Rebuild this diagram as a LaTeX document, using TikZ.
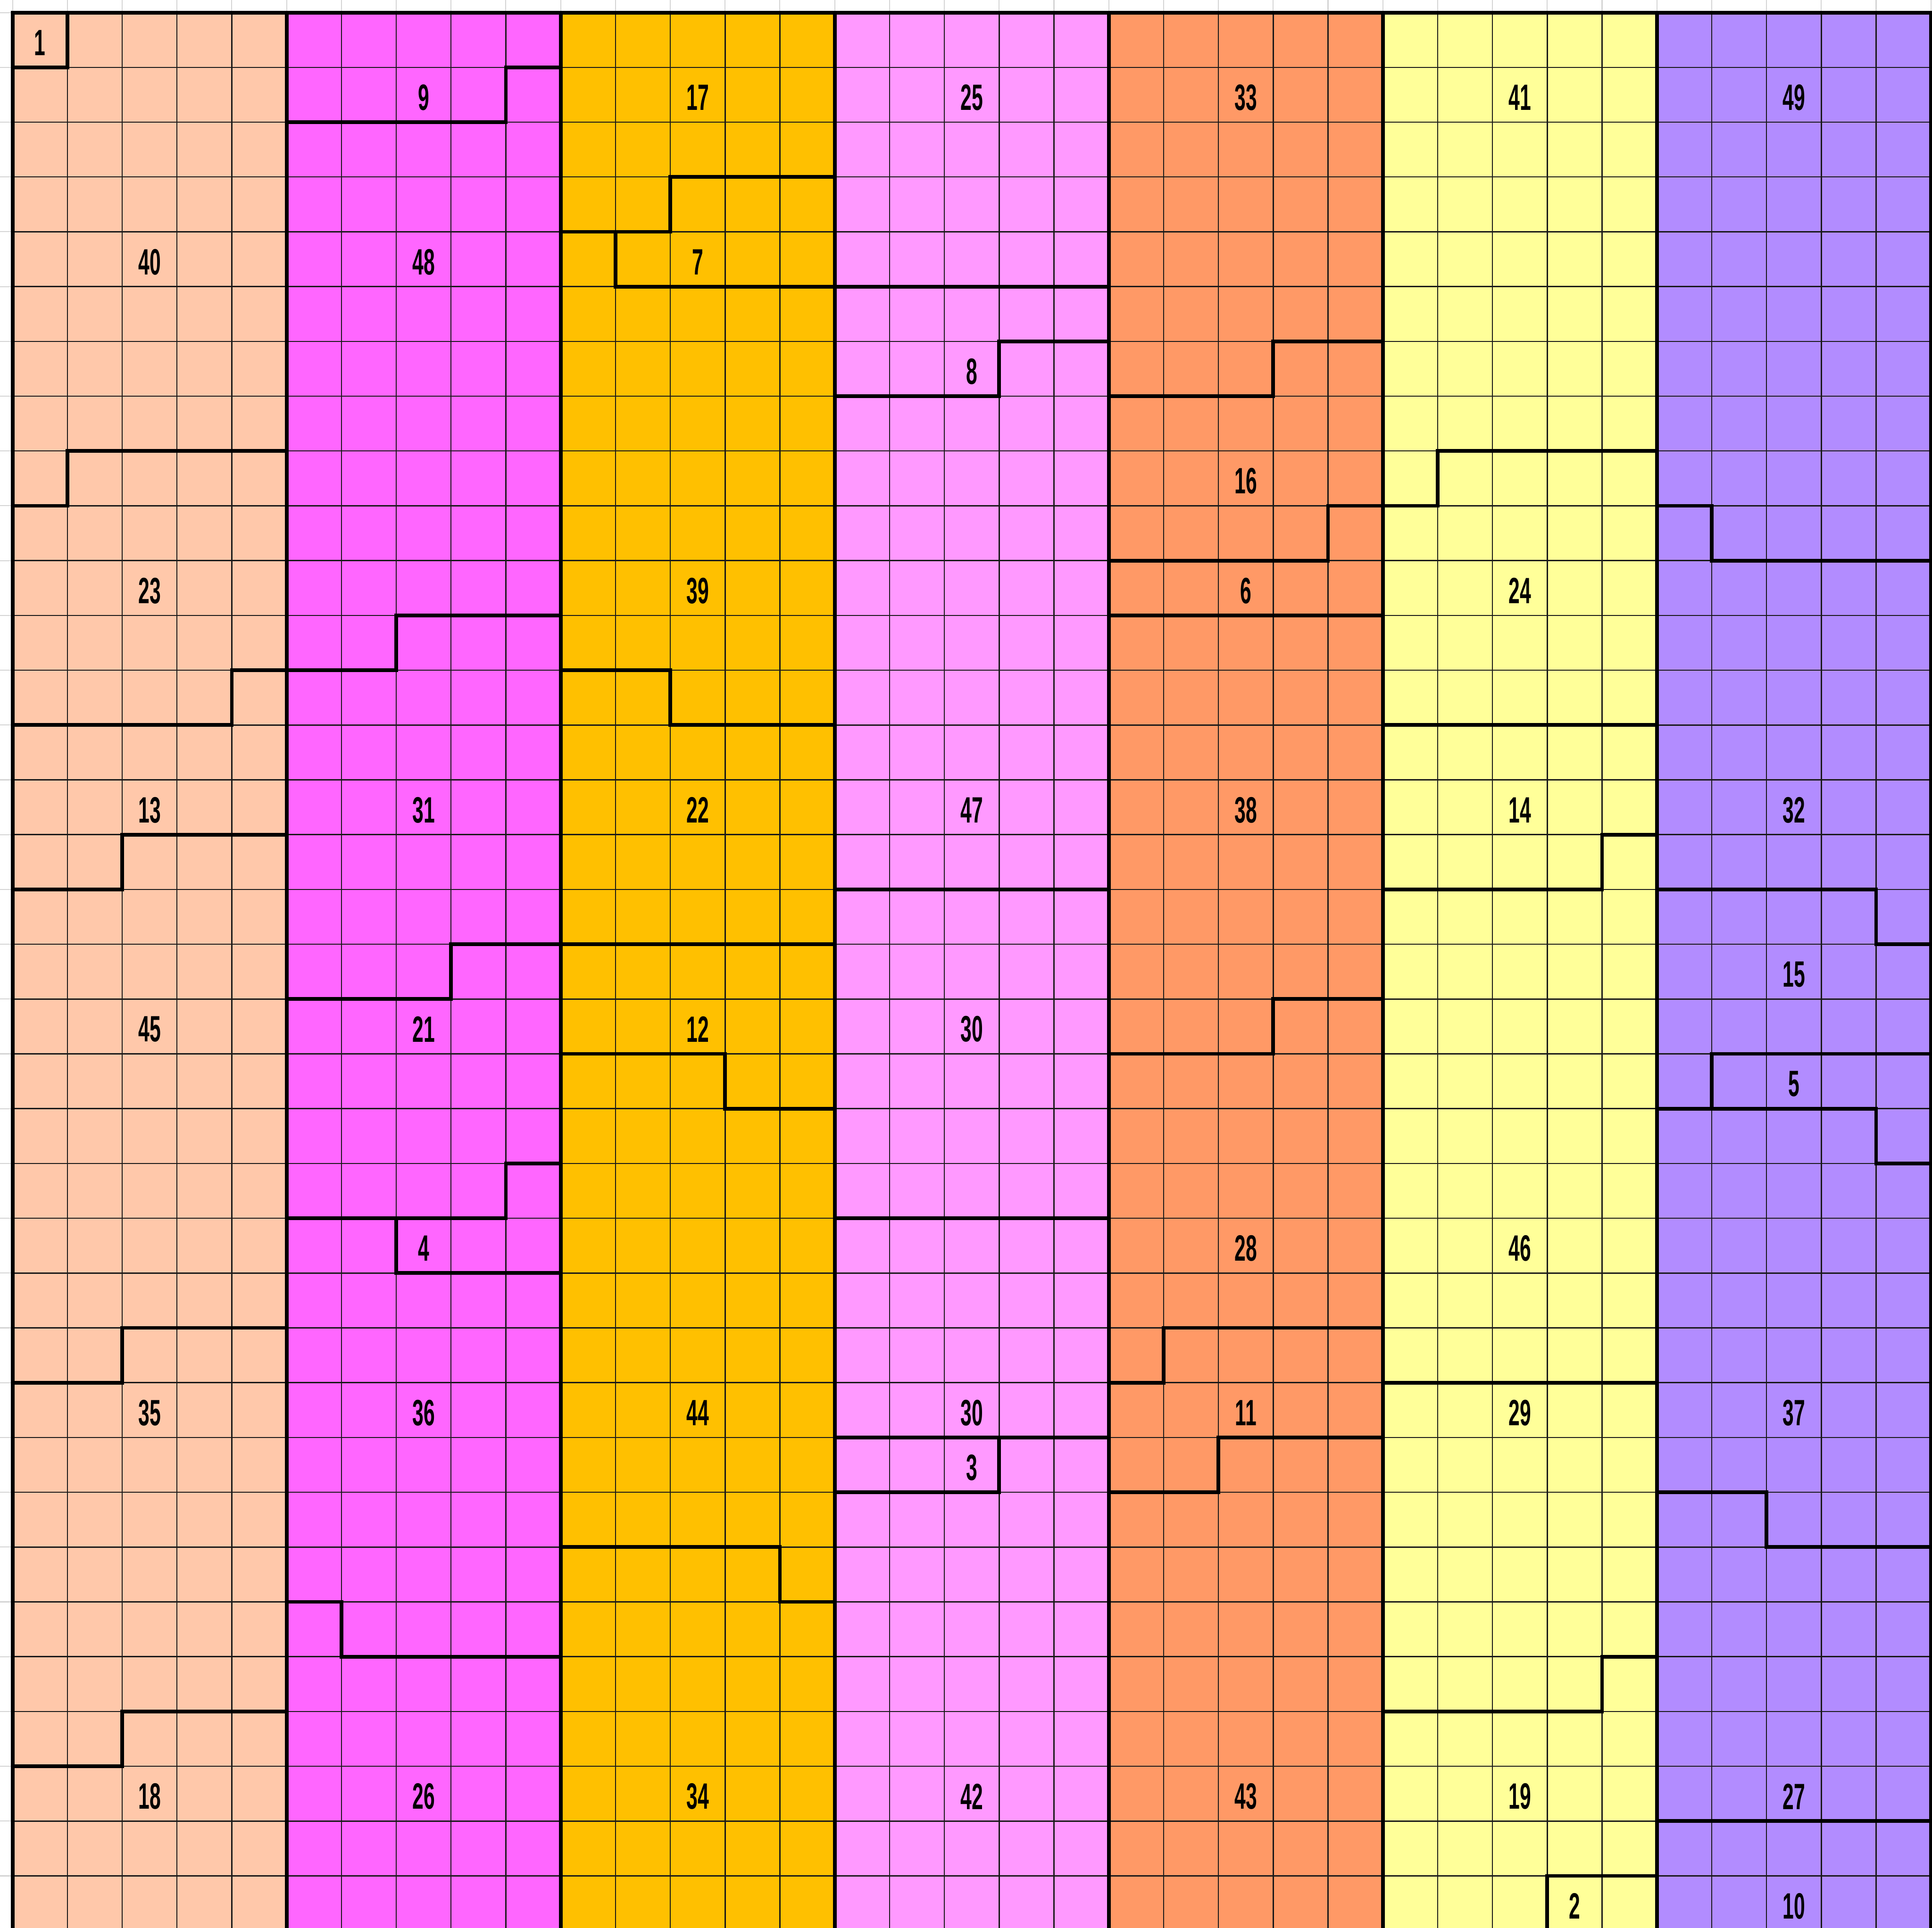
\documentclass[tikz,border=0pt]{standalone}
\usepackage{fontspec}
\setmainfont{Liberation Sans}[FakeStretch=0.55]
\definecolor{cA}{HTML}{FFC8AA}
\definecolor{cB}{HTML}{FF66FF}
\definecolor{cC}{HTML}{FFC000}
\definecolor{cD}{HTML}{FF99FF}
\definecolor{cE}{HTML}{FF9966}
\definecolor{cF}{HTML}{FFFF99}
\definecolor{cG}{HTML}{B28CFF}
\definecolor{faintgrey}{HTML}{D4D4D4}
\begin{document}
\begin{tikzpicture}[x=1cm,y=-1cm,
  faint/.style={draw=faintgrey,line width=0.5pt},
  cellline/.style={draw=black!90,line width=0.6pt},
  bound/.style={draw=black,line width=1.9pt,line cap=rect,line join=miter},
  lbl/.style={font=\fontsize{19}{19}\selectfont\bfseries,inner sep=0pt}]
\useasboundingbox (-0.2294,-0.2294) rectangle (35.02,34.945);
\fill[white] (-0.2294,-0.2294) rectangle (35.02,34.945);
\clip (-0.2294,-0.2294) rectangle (35.02,34.945);
% faint spreadsheet lines in the margins
\foreach \i in {0,...,35} {
  \draw[faint] (\i,-0.2294) -- (\i,0);
  \draw[faint] (-0.2294,\i) -- (0,\i);
}
% stripes
\fill[cA] (0,0) rectangle (5,35);
\fill[cB] (5,0) rectangle (10,35);
\fill[cC] (10,0) rectangle (15,35);
\fill[cD] (15,0) rectangle (20,35);
\fill[cE] (20,0) rectangle (25,35);
\fill[cF] (25,0) rectangle (30,35);
\fill[cG] (30,0) rectangle (35,35);
% thin cell grid
\foreach \i in {0,...,35} {
  \draw[cellline] (\i,0) -- (\i,35);
  \draw[cellline] (0,\i) -- (35,\i);
}
% outer border and stripe borders
\draw[bound] (0,0) rectangle (35,35);
\foreach \i in {5,10,15,20,25,30} { \draw[bound] (\i,0) -- (\i,35); }
% stripe 1
\draw[bound] (0,1) -- (1,1) -- (1,0);
\draw[bound] (0,9) -- (1,9) -- (1,8) -- (5,8);
\draw[bound] (0,13) -- (4,13) -- (4,12) -- (5,12);
\draw[bound] (0,16) -- (2,16) -- (2,15) -- (5,15);
\draw[bound] (0,25) -- (2,25) -- (2,24) -- (5,24);
\draw[bound] (0,32) -- (2,32) -- (2,31) -- (5,31);
% stripe 2
\draw[bound] (5,2) -- (9,2) -- (9,1) -- (10,1);
\draw[bound] (5,12) -- (7,12) -- (7,11) -- (10,11);
\draw[bound] (5,18) -- (8,18) -- (8,17) -- (10,17);
\draw[bound] (5,22) -- (9,22) -- (9,21) -- (10,21);
\draw[bound] (7,22) -- (7,23) -- (10,23);
\draw[bound] (5,29) -- (6,29) -- (6,30) -- (10,30);
% stripe 3
\draw[bound] (10,4) -- (12,4) -- (12,3) -- (15,3);
\draw[bound] (11,4) -- (11,5) -- (15,5);
\draw[bound] (10,12) -- (12,12) -- (12,13) -- (15,13);
\draw[bound] (10,17) -- (15,17);
\draw[bound] (10,19) -- (13,19) -- (13,20) -- (15,20);
\draw[bound] (10,28) -- (14,28) -- (14,29) -- (15,29);
% stripe 4
\draw[bound] (15,5) -- (20,5);
\draw[bound] (15,7) -- (18,7) -- (18,6) -- (20,6);
\draw[bound] (15,16) -- (20,16);
\draw[bound] (15,22) -- (20,22);
\draw[bound] (15,26) -- (20,26);
\draw[bound] (15,27) -- (18,27) -- (18,26);
% stripe 5
\draw[bound] (20,7) -- (23,7) -- (23,6) -- (25,6);
\draw[bound] (20,10) -- (24,10) -- (24,9) -- (25,9);
\draw[bound] (20,11) -- (25,11);
\draw[bound] (20,19) -- (23,19) -- (23,18) -- (25,18);
\draw[bound] (20,25) -- (21,25) -- (21,24) -- (25,24);
\draw[bound] (20,27) -- (22,27) -- (22,26) -- (25,26);
% stripe 6
\draw[bound] (25,9) -- (26,9) -- (26,8) -- (30,8);
\draw[bound] (25,13) -- (30,13);
\draw[bound] (25,16) -- (29,16) -- (29,15) -- (30,15);
\draw[bound] (25,25) -- (30,25);
\draw[bound] (25,31) -- (29,31) -- (29,30) -- (30,30);
\draw[bound] (28,35) -- (28,34) -- (30,34);
% stripe 7
\draw[bound] (30,9) -- (31,9) -- (31,10) -- (35,10);
\draw[bound] (30,16) -- (34,16) -- (34,17) -- (35,17);
\draw[bound] (30,20) -- (31,20) -- (31,19) -- (35,19);
\draw[bound] (31,20) -- (34,20) -- (34,21) -- (35,21);
\draw[bound] (30,27) -- (32,27) -- (32,28) -- (35,28);
\draw[bound] (30,33) -- (35,33);
% labels
\node[lbl] (n1)  at (0.5,0.55) {1};
\node[lbl] (n40) at (2.5,4.55) {40};
\node[lbl] (n23) at (2.5,10.55) {23};
\node[lbl] (n13) at (2.5,14.55) {13};
\node[lbl] (n45) at (2.5,18.55) {45};
\node[lbl] (n35) at (2.5,25.55) {35};
\node[lbl] (n18) at (2.5,32.55) {18};
\node[lbl] (n9)  at (7.5,1.55) {9};
\node[lbl] (n48) at (7.5,4.55) {48};
\node[lbl] (n31) at (7.5,14.55) {31};
\node[lbl] (n21) at (7.5,18.55) {21};
\node[lbl] (n4)  at (7.5,22.55) {4};
\node[lbl] (n36) at (7.5,25.55) {36};
\node[lbl] (n26) at (7.5,32.55) {26};
\node[lbl] (n17) at (12.5,1.55) {17};
\node[lbl] (n7)  at (12.5,4.55) {7};
\node[lbl] (n39) at (12.5,10.55) {39};
\node[lbl] (n22) at (12.5,14.55) {22};
\node[lbl] (n12) at (12.5,18.55) {12};
\node[lbl] (n44) at (12.5,25.55) {44};
\node[lbl] (n34) at (12.5,32.55) {34};
\node[lbl] (n25) at (17.5,1.55) {25};
\node[lbl] (n8)  at (17.5,6.55) {8};
\node[lbl] (n47) at (17.5,14.55) {47};
\node[lbl] (n30a) at (17.5,18.55) {30};
\node[lbl] (n30b) at (17.5,25.55) {30};
\node[lbl] (n3)  at (17.5,26.55) {3};
\node[lbl] (n42) at (17.5,32.55) {42};
\node[lbl] (n33) at (22.5,1.55) {33};
\node[lbl] (n16) at (22.5,8.55) {16};
\node[lbl] (n6)  at (22.5,10.55) {6};
\node[lbl] (n38) at (22.5,14.55) {38};
\node[lbl] (n28) at (22.5,22.55) {28};
\node[lbl] (n11) at (22.5,25.55) {11};
\node[lbl] (n43) at (22.5,32.55) {43};
\node[lbl] (n41) at (27.5,1.55) {41};
\node[lbl] (n24) at (27.5,10.55) {24};
\node[lbl] (n14) at (27.5,14.55) {14};
\node[lbl] (n46) at (27.5,22.55) {46};
\node[lbl] (n29) at (27.5,25.55) {29};
\node[lbl] (n19) at (27.5,32.55) {19};
\node[lbl] (n2)  at (28.5,34.55) {2};
\node[lbl] (n49) at (32.5,1.55) {49};
\node[lbl] (n32) at (32.5,14.55) {32};
\node[lbl] (n15) at (32.5,17.55) {15};
\node[lbl] (n5)  at (32.5,19.55) {5};
\node[lbl] (n37) at (32.5,25.55) {37};
\node[lbl] (n27) at (32.5,32.55) {27};
\node[lbl] (n10) at (32.5,34.55) {10};
\end{tikzpicture}
\end{document}
